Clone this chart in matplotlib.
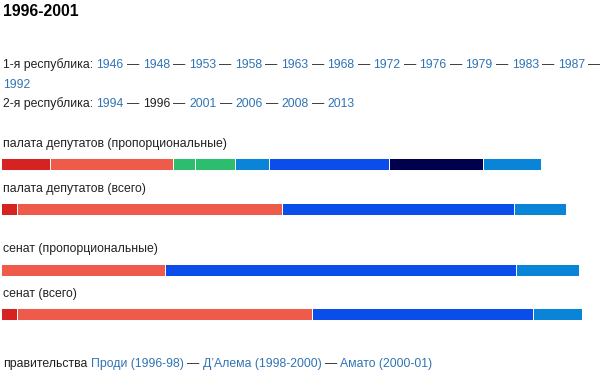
import matplotlib
matplotlib.use("Agg")
import matplotlib.pyplot as plt
import numpy as np

# ---------------- data ----------------
title = "1996-2001"
rep1_label = "1-я республика:"
rep1_years = ["1946", "1948", "1953", "1958", "1963", "1968", "1972",
              "1976", "1979", "1983", "1987", "1992"]
rep2_label = "2-я республика:"
rep2_years = ["1994", "1996", "2001", "2006", "2008", "2013"]
rep2_current = "1996"
gov_label = "правительства"
governments = ["Проди (1996-98)", "Д’Алема (1998-2000)", "Амато (2000-01)"]

bar_labels = ["палата депутатов (пропорциональные)",
              "палата депутатов (всего)",
              "сенат (пропорциональные)",
              "сенат (всего)"]
# share of seats (% of full width) per segment, left to right
chamber_prop = [8.1, 20.6, 3.7, 6.6, 5.6, 20.0, 15.75, 9.6]
chamber_prop_colors = ["#D42320", "#EF5B4A", "#2DBD6E", "#2DBD6E", "#0A84D6",
                       "#0A4DEB", "#00004F", "#0A84D6"]
chamber_total = [2.6, 44.3, 38.6, 8.7]
chamber_total_colors = ["#D42320", "#EF5B4A", "#0A4DEB", "#0A84D6"]
senate_prop = [27.4, 58.5, 10.5]
senate_prop_colors = ["#EF5B4A", "#0A4DEB", "#0A84D6"]
senate_total = [2.6, 49.3, 36.7, 8.2]
senate_total_colors = ["#D42320", "#EF5B4A", "#0A4DEB", "#0A84D6"]

series = [chamber_prop, chamber_total, senate_prop, senate_total]
series_colors = [chamber_prop_colors, chamber_total_colors,
                 senate_prop_colors, senate_total_colors]

# ---------------- style ----------------
FONT = ["Liberation Sans", "DejaVu Sans"]
TXT = "#202122"
LINK = "#2F74B5"
FS = 8.8

W, H = 600, 372
fig = plt.figure(figsize=(W / 100, H / 100), dpi=100)
fig.patch.set_facecolor("white")

# text axes in pixel units
tax = fig.add_axes([0, 0, 1, 1])
tax.set_xlim(0, W)
tax.set_ylim(H, 0)
tax.axis("off")

# bar axes in percent units (100 = full width)
bax = fig.add_axes([1 / W, 0, 1, 1], zorder=0)
bax.set_xlim(0, 100)
bax.set_ylim(H, 0)
bax.axis("off")

renderer = fig.canvas.get_renderer()


def text_w(s):
    t = tax.text(0, 0, s, fontsize=FS, family=FONT)
    w = t.get_window_extent(renderer).width
    t.remove()
    return w


XW = text_w("x")


def advance(s):
    # advance width of s, including trailing spaces
    return text_w(s + "x") - XW


def draw_line(pieces, x, y):
    full = ""
    for s, c in pieces:
        x0 = x + advance(full) if full else x
        tax.text(x0, y, s, color=c, fontsize=FS, family=FONT,
                 va="center", ha="left")
        full += s + " "


tax.text(3, 12, title, fontsize=11.4, fontweight="bold", family=FONT,
         color="black", va="center", ha="left")

# first republic (wraps after the 11th year)
pieces = [(rep1_label, TXT)]
for yr in rep1_years[:-1]:
    pieces.append((yr, LINK))
    pieces.append(("—", TXT))
draw_line(pieces, 3, 65)
draw_line([(rep1_years[-1], LINK)], 3, 84.5)

pieces = [(rep2_label, TXT)]
for i, yr in enumerate(rep2_years):
    pieces.append((yr, TXT if yr == rep2_current else LINK))
    if i < len(rep2_years) - 1:
        pieces.append(("—", TXT))
draw_line(pieces, 3, 104)

pieces = [(gov_label, TXT)]
for i, g in enumerate(governments):
    pieces.append((g, LINK))
    if i < len(governments) - 1:
        pieces.append(("—", TXT))
draw_line(pieces, 3, 364)

# bars
label_y = [144, 189, 249, 294]
bar_y = [164, 208.5, 269.8, 314]
for lab, ly, by, vals, cols in zip(bar_labels, label_y, bar_y, series, series_colors):
    tax.text(3, ly, lab, fontsize=FS, family=FONT, color=TXT,
             va="center", ha="left")
    vals = np.asarray(vals)
    lefts = np.concatenate([[0], np.cumsum(vals)[:-1]])
    bax.barh(by, vals, left=lefts, height=12, color=cols,
             edgecolor="white", linewidth=0.7)

fig.savefig("out.png", dpi=100, facecolor="white")
